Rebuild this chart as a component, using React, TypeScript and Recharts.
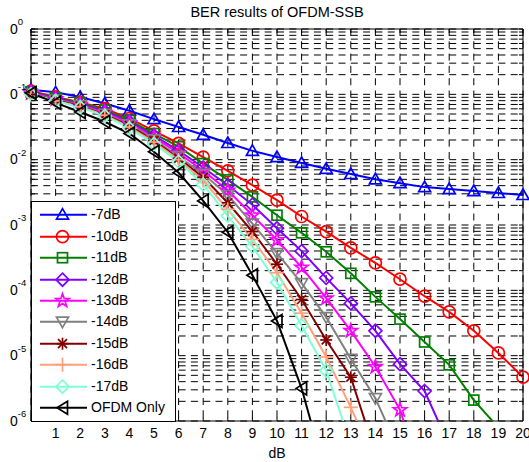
import React from 'react';
import { LineChart, Line, XAxis, YAxis, CartesianGrid, ReferenceArea, Legend } from 'recharts';

const FONT = '"Liberation Sans", Arial, Helvetica, sans-serif';

// ---------- data ----------
const xValues = [0, 1, 2, 3, 4, 5, 6, 7, 8, 9, 10, 11, 12, 13, 14, 15, 16, 17, 18, 19, 20];

const ber7 = [0.1175, 0.1072, 0.0912, 0.0724, 0.0562, 0.0417, 0.0316, 0.024, 0.018, 0.01365, 0.01096, 0.00891, 0.00724, 0.00603, 0.00501, 0.00437, 0.0038, 0.00355, 0.00331, 0.00309, 0.00288];
const ber10 = [0.1122, 0.0912, 0.0759, 0.0603, 0.0427, 0.0275, 0.0178, 0.01096, 0.00676, 0.00407, 0.0024, 0.00135, 7.94e-4, 4.47e-4, 2.63e-4, 1.48e-4, 8.13e-5, 4.68e-5, 2.4e-5, 1.1e-5, 4.68e-6];
const ber11 = [0.1096, 0.0891, 0.0741, 0.0575, 0.0398, 0.0251, 0.0158, 0.00871, 0.0049, 0.00269, 0.00141, 7.59e-4, 3.89e-4, 1.82e-4, 7.94e-5, 3.63e-5, 1.62e-5, 7.24e-6, 2.09e-6, 7.9e-7];
const ber12 = [0.1072, 0.0871, 0.0708, 0.055, 0.038, 0.0234, 0.0138, 0.00759, 0.00407, 0.00204, 8.91e-4, 3.98e-4, 1.55e-4, 6.31e-5, 2.4e-5, 7.41e-6, 2.88e-6, 4.2e-7];
const ber13 = [0.1047, 0.0851, 0.0692, 0.0525, 0.0363, 0.0219, 0.0126, 0.00676, 0.00339, 0.00141, 5.89e-4, 2.24e-4, 7.59e-5, 2.4e-5, 6.76e-6, 1.48e-6, 1.0e-7];
const ber14 = [0.1023, 0.0832, 0.0676, 0.0501, 0.0347, 0.0204, 0.0112, 0.00603, 0.00288, 0.00105, 3.72e-4, 1.29e-4, 3.89e-5, 8.91e-6, 2.24e-6, 3.2e-7];
const ber15 = [0.1, 0.0813, 0.0661, 0.049, 0.0331, 0.0195, 0.0105, 0.00537, 0.00219, 7.94e-4, 2.51e-4, 7.24e-5, 1.74e-5, 4.68e-6, 3.2e-7];
const ber16 = [0.1, 0.0794, 0.0646, 0.0479, 0.0316, 0.0186, 0.01, 0.00479, 0.00174, 6.03e-4, 1.86e-4, 4.47e-5, 9.55e-6, 1.62e-6, 2.3e-7];
const ber17 = [0.1, 0.0794, 0.0631, 0.0468, 0.0302, 0.0174, 0.00933, 0.00417, 0.00138, 4.68e-4, 1.32e-4, 2.88e-5, 5.89e-6, 4.4e-7];
const berOfdm = [0.1047, 0.0741, 0.0537, 0.038, 0.0251, 0.0132, 0.00631, 0.00234, 7.76e-4, 1.7e-4, 3.39e-5, 3.16e-6, 1.41e-7];

const seriesNames = ['-7dB', '-10dB', '-11dB', '-12dB', '-13dB', '-14dB', '-15dB', '-16dB', '-17dB', 'OFDM Only'];
const seriesColors = ['#0000ff', '#ff0000', '#008000', '#7f00ff', '#ff00ff', '#808080', '#800000', '#ffa07a', '#7fffd4', '#000000'];
const seriesMarkers = ['triUp', 'circle', 'square', 'diamond', 'star', 'triDown', 'asterisk', 'plus', 'diamond', 'triLeft'];
const seriesValues = [ber7, ber10, ber11, ber12, ber13, ber14, ber15, ber16, ber17, berOfdm];

const xTicks = [0, 1, 2, 3, 4, 5, 6, 7, 8, 9, 10, 11, 12, 13, 14, 15, 16, 17, 18, 19, 20];
const yDecadeTicks = [1e-6, 1e-5, 1e-4, 1e-3, 1e-2, 1e-1, 1];
const yTickExponents = ['-6', '-5', '-4', '-3', '-2', '-1', '0'];
const yMinorMultipliers = [2, 3, 4, 5, 6, 7, 8, 9];

const Y_MIN = 1e-6;
const Y_MAX = 1;

const yAllTicks: number[] = [];
yDecadeTicks.forEach((d, i) => {
  yAllTicks.push(d);
  if (i < yDecadeTicks.length - 1) yMinorMultipliers.forEach((m) => yAllTicks.push(m * d));
});

const table = xValues.map((x, i) => {
  const row: Record<string, number> = { x };
  seriesValues.forEach((arr, s) => {
    const v = arr[i];
    if (v !== undefined) {
      row[`s${s}`] = v;
      if (v >= Y_MIN) row[`p${s}`] = v;
    }
  });
  return row;
});

// ---------- layout ----------
const W = 529;
const H = 462;
const MARGIN = { top: 29, right: 6, left: 0, bottom: 0 };
const Y_AXIS_W = 31;
const X_AXIS_H = 41;
const PLOT_L = MARGIN.left + Y_AXIS_W;
const PLOT_R = W - MARGIN.right;
const PLOT_T = MARGIN.top;
const PLOT_B = H - MARGIN.bottom - X_AXIS_H;
const TICK = 4;

// ---------- markers ----------
function renderMarker(shape: string, cx: number, cy: number, color: string, key?: string) {
  const p = { fill: 'none', stroke: color, strokeWidth: 1.7 };
  let el: React.ReactNode = null;
  switch (shape) {
    case 'circle':
      el = <circle cx={cx} cy={cy} r={6} {...p} />;
      break;
    case 'square':
      el = <rect x={cx - 5} y={cy - 5} width={10} height={10} {...p} />;
      break;
    case 'triUp':
      el = <polygon points={`${cx},${cy - 6} ${cx + 6},${cy + 4.5} ${cx - 6},${cy + 4.5}`} {...p} />;
      break;
    case 'triDown':
      el = <polygon points={`${cx},${cy + 6} ${cx + 6},${cy - 4.5} ${cx - 6},${cy - 4.5}`} {...p} />;
      break;
    case 'triLeft':
      el = <polygon points={`${cx - 5.5},${cy} ${cx + 5},${cy - 6.5} ${cx + 5},${cy + 6.5}`} {...p} />;
      break;
    case 'diamond':
      el = <polygon points={`${cx},${cy - 6.5} ${cx + 6.5},${cy} ${cx},${cy + 6.5} ${cx - 6.5},${cy}`} {...p} />;
      break;
    case 'star': {
      const pts: string[] = [];
      for (let k = 0; k < 10; k++) {
        const a = ((-90 + 36 * k) * Math.PI) / 180;
        const r = k % 2 === 0 ? 7 : 2.8;
        pts.push(`${cx + r * Math.cos(a)},${cy + r * Math.sin(a)}`);
      }
      el = <polygon points={pts.join(' ')} {...p} />;
      break;
    }
    case 'asterisk':
      el = (
        <g {...p}>
          <line x1={cx - 6} y1={cy} x2={cx + 6} y2={cy} />
          <line x1={cx} y1={cy - 6} x2={cx} y2={cy + 6} />
          <line x1={cx - 4.5} y1={cy - 4.5} x2={cx + 4.5} y2={cy + 4.5} />
          <line x1={cx - 4.5} y1={cy + 4.5} x2={cx + 4.5} y2={cy - 4.5} />
        </g>
      );
      break;
    case 'plus':
      el = (
        <g {...p}>
          <line x1={cx - 7} y1={cy} x2={cx + 7} y2={cy} />
          <line x1={cx} y1={cy - 7} x2={cx} y2={cy + 7} />
        </g>
      );
      break;
  }
  return <g key={key}>{el}</g>;
}

const makeDot = (s: number) => (props: any) => {
  const { cx, cy, index, value } = props;
  if (value == null || cy == null || cx == null || Number.isNaN(cy)) return <g key={`d${s}-${index}`} />;
  return renderMarker(seriesMarkers[s], cx, cy, seriesColors[s], `d${s}-${index}`);
};

// ---------- ticks ----------
const YTick = (props: any) => {
  const { y, payload } = props;
  const v = payload.value;
  const di = yDecadeTicks.indexOf(v);
  return (
    <g>
      <line x1={PLOT_L} x2={PLOT_L + TICK} y1={y} y2={y} stroke="#000" strokeWidth={1} />
      <line x1={PLOT_R} x2={PLOT_R - TICK} y1={y} y2={y} stroke="#000" strokeWidth={1} />
      {di >= 0 && (
        <text x={10} y={y + 4.5} fontSize={14} fontFamily={FONT} fill="#000">
          0
          <tspan fontSize={9.5} dy={-8.5}>
            {yTickExponents[di]}
          </tspan>
        </text>
      )}
    </g>
  );
};

const XTick = (props: any) => {
  const { x, payload } = props;
  return (
    <g>
      <line x1={x} x2={x} y1={PLOT_B} y2={PLOT_B - TICK} stroke="#000" strokeWidth={1} />
      <line x1={x} x2={x} y1={PLOT_T} y2={PLOT_T + TICK} stroke="#000" strokeWidth={1} />
      {payload.value > 0 && (
        <text x={x} y={438} textAnchor="middle" fontSize={14} fontFamily={FONT} fill="#000">
          {payload.value}
        </text>
      )}
    </g>
  );
};

// ---------- legend ----------
const LEG_W = 145;
const LEG_H = 221;
const ROW_H = 21.4;

const renderLegend = () => (
  <div
    style={{
      width: LEG_W,
      height: LEG_H,
      boxSizing: 'border-box',
      border: '1px solid #000',
      background: '#fff',
      position: 'relative',
      fontFamily: FONT,
      fontSize: 14,
      color: '#000',
    }}
  >
    {seriesNames.map((name, s) => (
      <div
        key={name}
        style={{
          position: 'absolute',
          left: 0,
          top: 2.3 + ROW_H * s,
          height: ROW_H,
          display: 'flex',
          alignItems: 'center',
          whiteSpace: 'nowrap',
        }}
      >
        <svg width={59} height={ROW_H} style={{ display: 'block' }}>
          <line x1={8} x2={55} y1={ROW_H / 2} y2={ROW_H / 2} stroke={seriesColors[s]} strokeWidth={2} />
          {renderMarker(seriesMarkers[s], 30.5, ROW_H / 2, seriesColors[s])}
        </svg>
        <span style={{ lineHeight: `${ROW_H}px` }}>{name}</span>
      </div>
    ))}
  </div>
);

export default function App() {
  return (
    <div style={{ position: 'absolute', left: 0, top: 0, width: W, height: H, background: '#fff' }}>
      <div
        style={{
          position: 'absolute',
          left: PLOT_L,
          width: PLOT_R - PLOT_L,
          top: 3.5,
          lineHeight: '17px',
          textAlign: 'center',
          fontFamily: FONT,
          fontSize: 14.5,
          color: '#000',
          zIndex: 2,
        }}
      >
        BER results of OFDM-SSB
      </div>
      <LineChart width={W} height={H} data={table} margin={MARGIN} style={{ fontFamily: FONT }}>
        <CartesianGrid
          xAxisId={0}
          yAxisId="main"
          stroke="#000"
          strokeWidth={1}
          strokeDasharray="7 5.3"
          fill="none"
        />
        <XAxis
          dataKey="x"
          type="number"
          domain={[0, 20]}
          ticks={xTicks}
          interval={0}
          height={X_AXIS_H}
          tick={<XTick />}
          tickLine={false}
          axisLine={false}
          label={{ value: 'dB', position: 'insideBottom', offset: 4, fontSize: 14, fill: '#000', fontFamily: FONT }}
        />
        <YAxis
          yAxisId="main"
          type="number"
          scale="log"
          domain={[Y_MIN, Y_MAX]}
          allowDataOverflow
          ticks={yAllTicks}
          interval={0}
          width={Y_AXIS_W}
          tick={<YTick />}
          tickLine={false}
          axisLine={false}
        />
        <YAxis yAxisId="pts" type="number" scale="log" domain={[Y_MIN, Y_MAX]} hide />
        <ReferenceArea
          yAxisId="main"
          x1={0}
          x2={20}
          y1={Y_MIN}
          y2={Y_MAX}
          fill="none"
          stroke="#000"
          strokeWidth={1}
          fillOpacity={0}
        />
        {seriesNames.flatMap((name, s) => [
          <Line
            key={`l${s}`}
            yAxisId="main"
            type="linear"
            dataKey={`s${s}`}
            name={name}
            stroke={seriesColors[s]}
            strokeWidth={2}
            dot={false}
            activeDot={false}
            isAnimationActive={false}
          />,
          <Line
            key={`p${s}`}
            yAxisId="pts"
            type="linear"
            dataKey={`p${s}`}
            name={`${name} markers`}
            stroke="none"
            strokeWidth={0}
            dot={makeDot(s)}
            activeDot={false}
            isAnimationActive={false}
            legendType="none"
          />,
        ])}
        <Legend
          layout="vertical"
          align="center"
          verticalAlign="middle"
          content={renderLegend}
          wrapperStyle={{ left: PLOT_L, top: 201, width: LEG_W, height: LEG_H, margin: 0, padding: 0 }}
        />
      </LineChart>
    </div>
  );
}
